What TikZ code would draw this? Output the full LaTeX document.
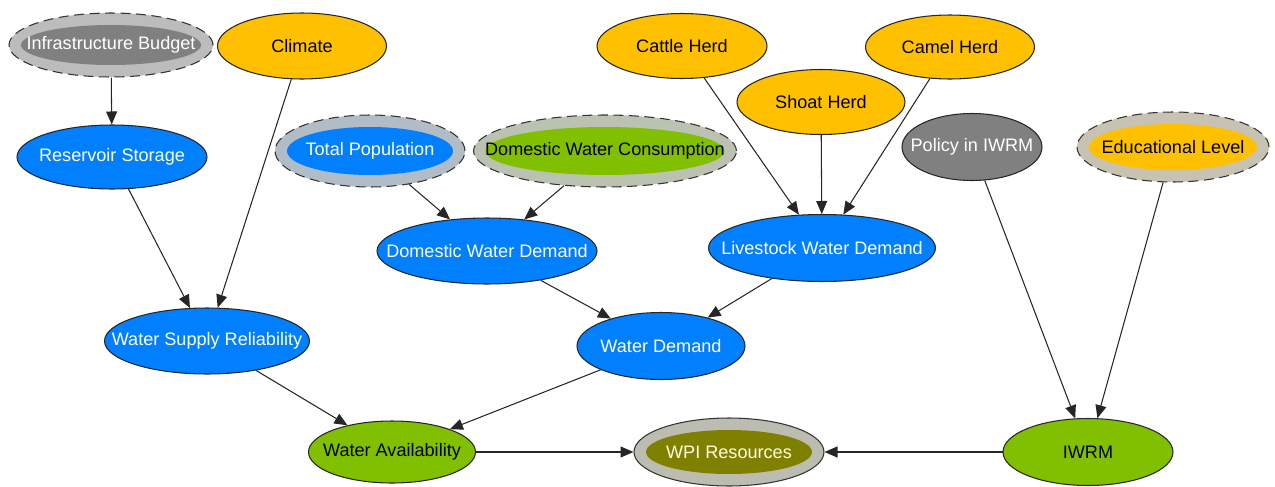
\documentclass[tikz,border=0pt]{standalone}
\usepackage{fontspec}
\setmainfont{Liberation Sans}
\usetikzlibrary{arrows.meta, shapes.geometric, calc}

\definecolor{nodeblue}{HTML}{0080FF}
\definecolor{nodeorange}{HTML}{FFC000}
\definecolor{nodegreen}{HTML}{80C000}
\definecolor{nodegray}{HTML}{808080}
\definecolor{nodeolive}{HTML}{808000}
\definecolor{ringgray}{HTML}{C2C2C2}
\definecolor{linkgray}{HTML}{262626}

\begin{document}
\begin{tikzpicture}[
    x=0.02cm, y=-0.02cm,
    >={Triangle[length=2.6mm, width=2.2mm]},
    var/.style={ellipse, draw=black!85, line width=0.6pt,
                inner xsep=-3cm, inner ysep=-1cm,
                font=\fontsize{10.3}{12}\selectfont, fill=#1},
    ring/.style={ellipse, draw=black!80, line width=0.6pt,
                 inner xsep=-3cm, inner ysep=-1cm,
                 font=\fontsize{10.3}{12}\selectfont, fill=#1!9!ringgray,
                 path picture={
                   \fill[#1] let \p1=(path picture bounding box.north east),
                     \p2=(path picture bounding box.center) in
                     (\p2) ellipse [x radius={\x1-\x2-0.24cm},
                                    y radius={\y1-\y2-0.24cm}];}},
    dashring/.style={dash pattern=on 2mm off 1.1mm},
    link/.style={->, draw=linkgray, line width=0.6pt}
  ]
  \useasboundingbox (0,0) rectangle (1275,487);

  % Top row
  \node[ring=nodegray, dashring, text=white, minimum width=4.08cm,
        minimum height=1.28cm] (infra) at (111,45) {Infrastructure Budget};
  \node[var=nodeorange, minimum width=3.38cm, minimum height=1.32cm]
        (climate) at (302,46) {Climate};
  \node[var=nodeorange, minimum width=3.4cm, minimum height=1.3cm]
        (cattle) at (682,46) {Cattle Herd};
  \node[var=nodeorange, minimum width=3.38cm, minimum height=1.28cm]
        (camel) at (950,47) {Camel Herd};
  \node[var=nodeorange, minimum width=3.36cm, minimum height=1.3cm]
        (shoat) at (821,102) {Shoat Herd};

  % Second row
  \node[var=nodeblue, text=white, minimum width=3.8cm, minimum height=1.28cm]
        (reservoir) at (112,157) {Reservoir Storage};
  \node[ring=nodeblue, dashring, text=white, minimum width=3.8cm,
        minimum height=1.44cm] (totpop) at (370,151) {Total Population};
  \node[ring=nodegreen, dashring, minimum width=5.26cm, minimum height=1.44cm]
        (domcons) at (605,151) {Domestic Water Consumption};
  \node[var=nodegray, text=white, minimum width=2.8cm, minimum height=1.34cm]
        (policy) at (972,147) {Policy in IWRM};
  \node[ring=nodeorange, dashring, minimum width=3.84cm, minimum height=1.4cm]
        (edu) at (1173,147) {Educational Level};

  % Demands
  \node[var=nodeblue, text=white, minimum width=4.4cm, minimum height=1.32cm]
        (domdem) at (487,251) {Domestic Water Demand};
  \node[var=nodeblue, text=white, minimum width=4.54cm, minimum height=1.34cm]
        (livedem) at (822,248) {Livestock Water Demand};
  \node[var=nodeblue, text=white, minimum width=4.1cm, minimum height=1.32cm]
        (supply) at (207,341) {Water Supply Reliability};
  \node[var=nodeblue, text=white, minimum width=3.36cm, minimum height=1.34cm]
        (waterdem) at (661,346) {Water Demand};

  % Bottom row
  \node[var=nodegreen, minimum width=3.34cm, minimum height=1.24cm]
        (avail) at (392,452) {Water Availability};
  \node[ring=nodeolive, text=white!88!yellow, minimum width=3.8cm,
        minimum height=1.36cm] (wpi) at (729,452) {WPI Resources};
  \node[var=nodegreen, minimum width=3.4cm, minimum height=1.34cm]
        (iwrm) at (1088,452) {IWRM};

  % Links
  \draw[link] (infra) -- (reservoir);
  \draw[link] (climate) -- (supply);
  \draw[link] (reservoir) -- (supply);
  \draw[link] (totpop) -- (domdem);
  \draw[link] (domcons) -- (domdem);
  \draw[link] (cattle) -- (livedem);
  \draw[link] (shoat) -- (livedem);
  \draw[link] (camel) -- (livedem);
  \draw[link] (domdem) -- (waterdem);
  \draw[link] (livedem) -- (waterdem);
  \draw[link] (supply) -- (avail);
  \draw[link] (waterdem) -- (avail);
  \draw[link] (avail) -- (wpi);
  \draw[link] (iwrm) -- (wpi);
  \draw[link] (policy) -- (iwrm);
  \draw[link] (edu) -- (iwrm);
\end{tikzpicture}
\end{document}
